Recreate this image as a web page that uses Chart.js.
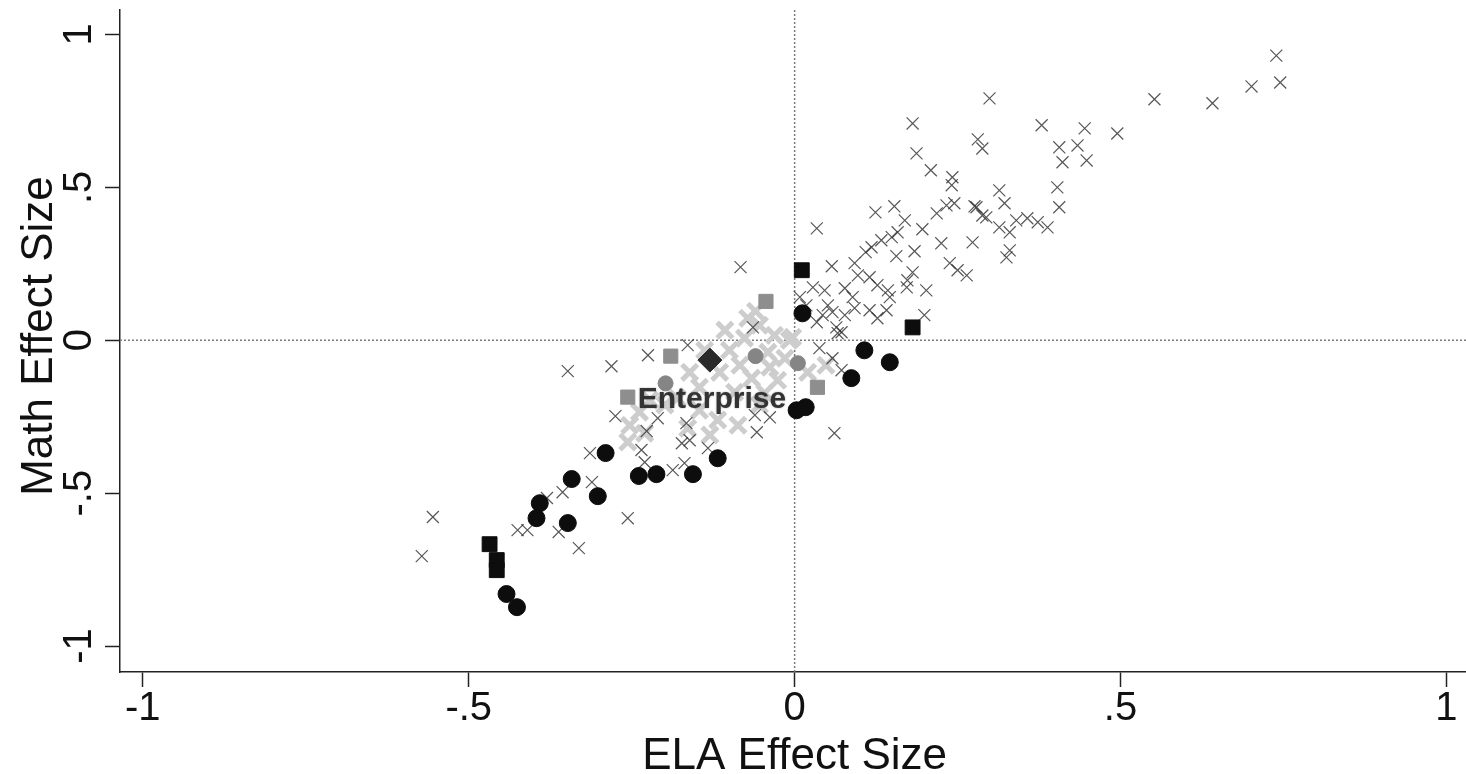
<!DOCTYPE html>
<html>
<head>
<meta charset="utf-8">
<script src="https://cdn.jsdelivr.net/npm/chart.js@4"></script>
<style>
  html, body { margin: 0; padding: 0; background: #fff; overflow: hidden; }
  #wrap { width: 1466px; height: 774px; }
  canvas { display: block; }
</style>
</head>
<body>
<div id="wrap"><canvas id="effectChart" width="1466" height="774"></canvas></div>
<script>
// ELA / Math effect sizes
const otherX = [-0.348,-0.281,-0.225,-0.164,-0.275,-0.210,-0.227,-0.166,-0.314,-0.311,-0.356,-0.380,-0.425,-0.410,-0.362,-0.331,-0.256,-0.235,-0.230,-0.187,-0.169,-0.173,-0.161,-0.555,-0.572,-0.133,-0.058,-0.038,-0.061,-0.064,-0.083,
  0.038,0.058,0.072,0.061,0.066,
  0.034,0.124,0.153,0.169,0.158,0.149,0.133,0.118,0.109,0.196,0.218,0.233,0.245,0.276,0.288,0.225,0.273,0.184,0.156,0.057,0.092,0.097,0.115,0.127,0.238,0.250,0.264,0.181,0.173,0.172,0.202,0.143,0.146,0.089,0.077,0.046,0.028,0.008,0.051,0.043,0.058,0.034,0.064,0.077,0.092,0.115,0.127,0.141,0.072,0.199,0.018,
  0.299,0.281,0.288,0.379,0.445,0.495,0.406,0.434,0.411,0.448,0.403,0.406,0.242,0.314,0.322,0.279,0.294,0.314,0.340,0.357,0.373,0.388,0.330,0.330,0.325,0.241,
  0.739,0.745,0.701,0.641,0.552,0.181,0.187,0.209];
const otherY = [-0.101,-0.085,-0.049,-0.016,-0.248,-0.255,-0.297,-0.271,-0.369,-0.464,-0.497,-0.516,-0.621,-0.621,-0.627,-0.680,-0.582,-0.359,-0.399,-0.425,-0.402,-0.337,-0.327,-0.578,-0.706,-0.353,-0.301,-0.252,-0.245,0.042,0.239,
  -0.026,-0.059,-0.098,-0.304,0.023,
  0.366,0.418,0.438,0.392,0.353,0.337,0.327,0.304,0.288,0.363,0.415,0.441,0.448,0.438,0.408,0.317,0.320,0.291,0.275,0.242,0.252,0.212,0.206,0.180,0.252,0.229,0.212,0.222,0.196,0.173,0.163,0.163,0.141,0.141,0.170,0.163,0.173,0.141,0.114,0.082,0.092,0.059,0.042,0.082,0.105,0.098,0.072,0.098,0.026,0.082,0.114,
  0.791,0.657,0.627,0.703,0.693,0.676,0.631,0.637,0.582,0.588,0.500,0.435,0.533,0.490,0.448,0.435,0.402,0.369,0.392,0.399,0.386,0.369,0.353,0.294,0.271,0.507,
  0.931,0.843,0.830,0.775,0.788,0.709,0.611,0.556];

const compX = [-0.054,-0.031,-0.077,-0.008,-0.100,-0.041,-0.084,-0.038,-0.015,-0.115,-0.066,-0.026,0.020,0.048,-0.146,-0.092,-0.046,-0.222,-0.238,-0.199,-0.253,-0.230,-0.256,-0.146,-0.118,-0.087,-0.130,-0.164,-0.054,-0.161,-0.138,-0.107,-0.003,-0.072,-0.180,-0.060];
const compY = [0.049,0.016,0.007,0.000,-0.033,-0.039,-0.082,-0.088,-0.059,-0.105,-0.124,-0.131,-0.105,-0.082,-0.154,-0.170,-0.173,-0.196,-0.235,-0.212,-0.278,-0.304,-0.333,-0.229,-0.261,-0.278,-0.310,-0.288,-0.212,-0.105,-0.033,0.033,0.010,0.072,-0.190,0.095];

const blackCircleX = [0.012,0.107,0.146,0.087,0.003,0.017,-0.118,-0.156,-0.212,-0.239,-0.290,-0.342,-0.302,-0.391,-0.396,-0.348,-0.442,-0.426];
const blackCircleY = [0.088,-0.033,-0.072,-0.124,-0.229,-0.219,-0.386,-0.438,-0.438,-0.444,-0.369,-0.454,-0.510,-0.533,-0.582,-0.598,-0.830,-0.873];

const blackSquareX = [0.011,0.181,-0.468,-0.457,-0.457];
const blackSquareY = [0.229,0.042,-0.667,-0.719,-0.752];

const graySquareX = [-0.044,-0.190,-0.256,0.035];
const graySquareY = [0.127,-0.052,-0.186,-0.154];

const grayCircleX = [-0.060,0.005,-0.198];
const grayCircleY = [-0.052,-0.075,-0.141];

const enterpriseX = [-0.130];
const enterpriseY = [-0.065];
const enterpriseLabel = "Enterprise";

const xTicks = [-1, -0.5, 0, 0.5, 1];
const yTicks = [-1, -0.5, 0, 0.5, 1];
const tickLabels = ["-1", "-.5", "0", ".5", "1"];
const xTitle = "ELA Effect Size";
const yTitle = "Math Effect Size";

function pts(xs, ys) {
  return xs.map((x, i) => ({x: x, y: ys[i]}));
}

const FONT = "'Liberation Sans', Arial, sans-serif";

const axisText = {
  id: 'axisText',
  beforeDatasetsDraw(chart) {
    const ctx = chart.ctx, a = chart.chartArea;
    const sx = chart.scales.x, sy = chart.scales.y;
    const x0 = sx.getPixelForValue(0), y0 = sy.getPixelForValue(0);
    ctx.save();
    ctx.strokeStyle = '#7a7a7a';
    ctx.lineWidth = 1.5;
    ctx.setLineDash([2, 2]);
    ctx.beginPath();
    ctx.moveTo(a.left, y0); ctx.lineTo(a.right, y0);
    ctx.moveTo(x0, a.top); ctx.lineTo(x0, a.bottom);
    ctx.stroke();
    ctx.restore();
  },
  afterDraw(chart) {
    const ctx = chart.ctx;
    const sx = chart.scales.x, sy = chart.scales.y;
    ctx.save();
    ctx.fillStyle = '#111';
    ctx.font = '40px ' + FONT;
    ctx.textAlign = 'center';
    ctx.textBaseline = 'alphabetic';
    xTicks.forEach((v, i) => {
      ctx.fillText(tickLabels[i], sx.getPixelForValue(v), 720);
    });
    yTicks.forEach((v, i) => {
      ctx.save();
      ctx.translate(91, sy.getPixelForValue(v));
      ctx.rotate(-Math.PI / 2);
      ctx.fillText(tickLabels[i], 0, 0);
      ctx.restore();
    });
    ctx.font = '44px ' + FONT;
    ctx.fillText(xTitle, sx.getPixelForValue(0), 769);
    ctx.translate(52, 336);
    ctx.rotate(-Math.PI / 2);
    ctx.fillText(yTitle, 0, 0);
    ctx.restore();
  },
  afterDatasetsDraw(chart) {
    const p = chart.getDatasetMeta(0).data[0];
    const ctx = chart.ctx;
    ctx.save();
    ctx.font = 'bold 30px ' + FONT;
    ctx.fillStyle = '#333';
    ctx.textAlign = 'center';
    ctx.textBaseline = 'alphabetic';
    ctx.shadowColor = 'rgba(0,0,0,0.35)';
    ctx.shadowBlur = 2;
    ctx.fillText(enterpriseLabel, p.x + 2, p.y + 48);
    ctx.restore();
  }
};

const axisCommon = {
  type: 'linear',
  grid: { drawOnChartArea: false, drawTicks: true, tickLength: 15, tickColor: '#222', tickWidth: 1.5 },
  border: { display: true, color: '#222', width: 1.5 },
  ticks: { display: false },
  title: { display: false }
};

new Chart(document.getElementById('effectChart'), {
  type: 'scatter',
  data: {
    datasets: [
      { label: 'Enterprise', data: pts(enterpriseX, enterpriseY), pointStyle: 'rectRot', radius: 12,
        backgroundColor: '#2a2a2a', borderColor: '#2a2a2a', borderWidth: 1 },
      { label: 'black circles', data: pts(blackCircleX, blackCircleY), pointStyle: 'circle', radius: 8.5,
        backgroundColor: '#0d0d0d', borderColor: '#0d0d0d', borderWidth: 1 },
      { label: 'black squares', data: pts(blackSquareX, blackSquareY), pointStyle: 'rect', radius: 10.5,
        backgroundColor: '#0d0d0d', borderColor: '#0d0d0d', borderWidth: 1 },
      { label: 'gray circles', data: pts(grayCircleX, grayCircleY), pointStyle: 'circle', radius: 7.5,
        backgroundColor: '#858585', borderColor: '#858585', borderWidth: 1 },
      { label: 'gray squares', data: pts(graySquareX, graySquareY), pointStyle: 'rect', radius: 10,
        backgroundColor: '#8e8e8e', borderColor: '#8e8e8e', borderWidth: 1 },
      { label: 'other schools', data: pts(otherX, otherY), pointStyle: 'crossRot', radius: 8.5,
        borderColor: 'rgba(45,45,45,0.8)', borderWidth: 1.2 },
      { label: 'comparison schools', data: pts(compX, compY), pointStyle: 'crossRot', radius: 11,
        borderColor: '#cdcdcd', borderWidth: 5 }
    ]
  },
  options: {
    responsive: false,
    devicePixelRatio: 1,
    animation: false,
    layout: { autoPadding: false, padding: { left: 105, right: 0, top: 10, bottom: 87 } },
    plugins: { legend: { display: false }, tooltip: { enabled: false } },
    scales: {
      x: Object.assign({}, axisCommon, {
        min: -1.035, max: 1.03,
        afterBuildTicks: s => { s.ticks = xTicks.map(v => ({value: v})); }
      }),
      y: Object.assign({}, axisCommon, {
        min: -1.085, max: 1.08,
        afterBuildTicks: s => { s.ticks = yTicks.map(v => ({value: v})); }
      })
    }
  },
  plugins: [axisText]
});
</script>
</body>
</html>
